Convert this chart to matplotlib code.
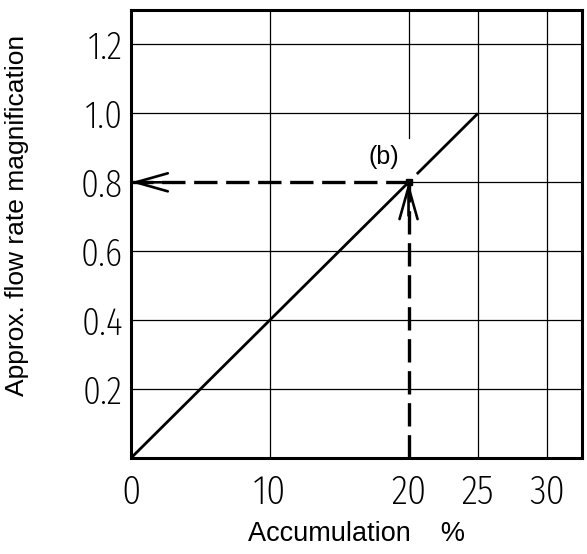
import matplotlib
matplotlib.use("Agg")
import matplotlib.pyplot as plt
from matplotlib import font_manager as fm
import numpy as np

# ---- data ----
accum_lower = [0, 20]
mag_lower = [0, 0.8]
accum_upper = [20.6, 25]
mag_upper = [0.824, 1.0]
point_b = (20, 0.8)
x_ticks = [0, 10, 20, 25, 30]
x_ticklabels = ["0", "10", "20", "25", "30"]
y_ticks = [0.2, 0.4, 0.6, 0.8, 1.0, 1.2]
y_ticklabels = ["0.2", "0.4", "0.6", "0.8", "1.0", "1.2"]
x_grid = [10, 25, 30]
y_grid = [0.2, 0.4, 0.6, 1.0, 1.2]
xlim = (0, 32.5)
ylim = (0, 1.3)


def to_num(v, table):
    if isinstance(v, (int, float)):
        return v
    return table.get(str(v).lower(), 400 if table is fm.weight_dict else 500)


def pick_digit_font():
    best, best_score = None, 1e9
    for f in fm.fontManager.ttflist:
        name = f.name
        if "CJK" in name or "Mono" in name or "Serif" in name or "Math" in name:
            continue
        w = to_num(f.weight, fm.weight_dict)
        s = to_num(f.stretch, fm.stretch_dict)
        low = (name + " " + f.fname).lower()
        if "extracondensed" in low or "extra-condensed" in low:
            s = min(s, 200)
        elif "condensed" in low or "narrow" in low:
            s = min(s, 300)
        if "thin" in low or "hairline" in low:
            w = min(w, 100)
        elif "extralight" in low:
            w = min(w, 200)
        elif "light" in low:
            w = min(w, 300)
        score = abs(s - 200) + 0.6 * abs(w - 200)
        if "italic" in low or "oblique" in low:
            score += 1000
        if score < best_score:
            best, best_score = f, score
    return fm.FontProperties(fname=best.fname) if best else fm.FontProperties(family="DejaVu Sans")


digit_fp = pick_digit_font()

fig = plt.figure(figsize=(5.87, 5.54), dpi=100)
ax = fig.add_axes([131 / 587, (554 - 458) / 554, (582 - 131) / 587, (458 - 10) / 554])
ax.set_xlim(*xlim)
ax.set_ylim(*ylim)

grid_kw = dict(color="black", lw=0.9, zorder=1)
for gx in x_grid:
    ax.axvline(gx, **grid_kw)
for gy in y_grid:
    ax.axhline(gy, **grid_kw)
# grid at x=20 above label, and y=0.8 right of point
ax.plot([point_b[0], point_b[0]], [0.93, ylim[1]], **grid_kw)
ax.plot([point_b[0], xlim[1]], [point_b[1], point_b[1]], **grid_kw)

# main line
ax.plot(accum_lower, mag_lower, color="black", lw=2.0, solid_capstyle="butt", zorder=3)
ax.plot(accum_upper, mag_upper, color="black", lw=2.0, solid_capstyle="butt", zorder=3)

# dashed reading lines
dash = (0, (7.0, 2.6))
ax.plot([point_b[0], 0], [point_b[1], point_b[1]], color="black", lw=2.4,
        linestyle=dash, zorder=4, clip_on=False)
ax.plot([point_b[0], point_b[0]], [0, point_b[1]], color="black", lw=2.4,
        linestyle=dash, zorder=4, clip_on=False)

arrow_kw = dict(arrowstyle="->,head_length=2.3,head_width=0.65", color="black",
                lw=1.9, shrinkA=0, shrinkB=0)
ax.annotate("", xy=(0, point_b[1]), xytext=(24, 0), textcoords="offset points",
            arrowprops=arrow_kw, zorder=5, annotation_clip=False)
ax.annotate("", xy=point_b, xytext=(0, -24), textcoords="offset points",
            arrowprops=arrow_kw, zorder=5)
ax.plot([point_b[0]], [point_b[1]], marker="s", ms=5, color="black", zorder=6)

ax.text(18.2, 0.872, "(b)", fontsize=18, ha="center", va="center",
        family="Liberation Sans", zorder=6)

for sp in ax.spines.values():
    sp.set_linewidth(2.2)
    sp.set_zorder(7)

ax.set_xticks(x_ticks)
ax.set_xticklabels(x_ticklabels, fontproperties=digit_fp, fontsize=30)
ax.set_yticks(y_ticks)
ax.set_yticklabels(y_ticklabels, fontproperties=digit_fp, fontsize=28)
ax.tick_params(axis="x", length=0, pad=11)
ax.tick_params(axis="y", length=0, pad=6)

ax.set_xlabel("Accumulation    %", fontsize=19.5, family="Liberation Sans")
ax.set_ylabel("Approx. flow rate magnification", fontsize=19, family="Liberation Sans")
ax.yaxis.set_label_coords(-0.226, 0.542)
ax.xaxis.set_label_coords(0.5, -0.14)

fig.savefig("out.png", dpi=100)
